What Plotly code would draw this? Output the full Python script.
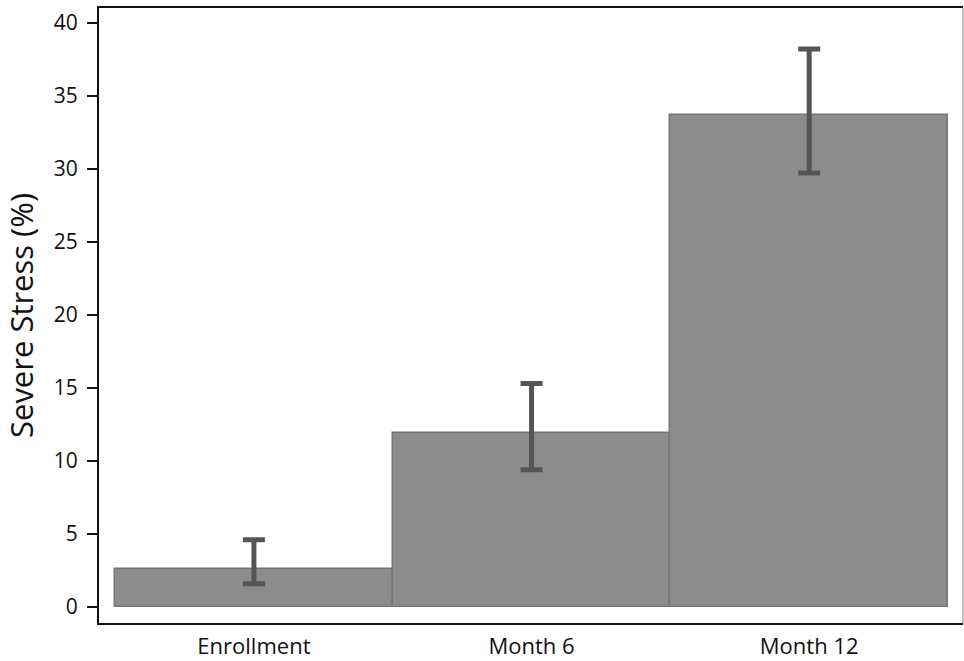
import plotly.graph_objects as go

categories = ["Enrollment", "Month 6", "Month 12"]
values = [2.6, 11.9, 33.7]
err_upper = [4.6, 15.3, 38.2]
err_lower = [1.6, 9.4, 29.7]
y_ticks = [0, 5, 10, 15, 20, 25, 30, 35, 40]

plus = [u - v for u, v in zip(err_upper, values)]
minus = [v - l for v, l in zip(values, err_lower)]

fig = go.Figure(go.Bar(
    x=categories, y=values,
    marker=dict(color="#8c8c8c", line=dict(color="#767676", width=1.5)),
    error_y=dict(type="data", symmetric=False, array=plus, arrayminus=minus,
                 color="#555555", thickness=5, width=11),
    width=1,
))

fig.update_layout(
    width=964, height=661,
    margin=dict(l=99, r=1, t=8, b=35),
    paper_bgcolor="white", plot_bgcolor="white",
    bargap=0, showlegend=False,
    font=dict(family="Open Sans", color="#111111"),
    xaxis=dict(range=[-0.558, 2.554], showline=True, linecolor="#111111", linewidth=2,
               mirror=True, ticks="", tickfont=dict(size=22), ticklabelstandoff=3,
               showgrid=False),
    yaxis=dict(range=[-1.09, 41.0], tickvals=y_ticks, showline=True, linecolor="#111111",
               linewidth=2, ticks="outside", ticklen=10, tickwidth=2, tickcolor="#111111",
               tickfont=dict(size=21), ticklabelstandoff=5, showgrid=False, zeroline=False,
               title=dict(text="Severe Stress (%)", font=dict(size=31), standoff=16)),
    shapes=[dict(type="line", xref="paper", yref="paper", x0=1, x1=1, y0=0, y1=1,
                 line=dict(color="#aaaaaa", width=1.5))],
)

fig.write_html("out.html", config={"displayModeBar": False},
               post_script="document.body.style.margin='0';document.documentElement.style.overflow='hidden';")
